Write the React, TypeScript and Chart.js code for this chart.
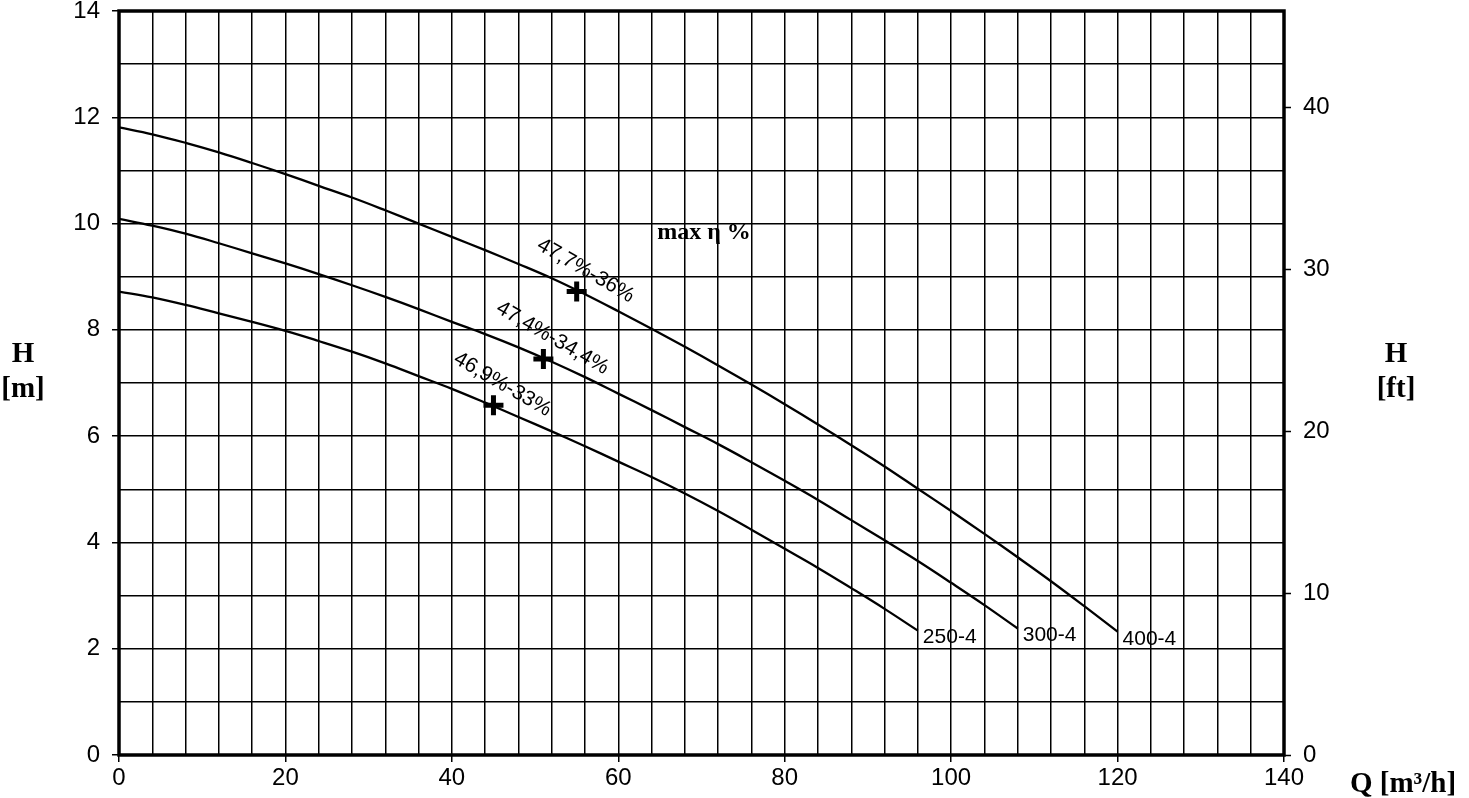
import React, { useEffect, useRef } from 'react';
import { Chart, registerables } from 'chart.js';

Chart.register(...registerables);

const CANVAS_W = 1469;
const SHIFT_UP = 4;
const CANVAS_H = 798 + SHIFT_UP;

// Pump curves: flow Q [m3/h] and head H [m]
const FLOW_250 = [0, 4, 8, 12, 16, 20, 24, 28, 32, 36, 40, 44, 48, 52, 56, 60, 64, 68, 72, 76, 80, 84, 88, 92, 96];
const HEAD_250 = [8.72, 8.61, 8.47, 8.31, 8.15, 7.98, 7.79, 7.59, 7.37, 7.13, 6.89, 6.63, 6.36, 6.09, 5.81, 5.52, 5.23, 4.92, 4.59, 4.24, 3.88, 3.52, 3.14, 2.75, 2.34];

const FLOW_300 = [0, 4, 8, 12, 16, 20, 24, 28, 32, 36, 40, 44, 48, 52, 56, 60, 64, 68, 72, 76, 80, 84, 88, 92, 96, 100, 104, 108];
const HEAD_300 = [10.09, 9.96, 9.81, 9.63, 9.44, 9.25, 9.05, 8.84, 8.62, 8.39, 8.15, 7.92, 7.67, 7.4, 7.11, 6.8, 6.49, 6.17, 5.85, 5.51, 5.16, 4.8, 4.42, 4.04, 3.65, 3.24, 2.82, 2.38];

const FLOW_400 = [0, 4, 8, 12, 16, 20, 24, 28, 32, 36, 40, 44, 48, 52, 56, 60, 64, 68, 72, 76, 80, 84, 88, 92, 96, 100, 104, 108, 112, 116, 120];
const HEAD_400 = [11.81, 11.68, 11.52, 11.34, 11.14, 10.93, 10.71, 10.49, 10.25, 10.0, 9.75, 9.5, 9.24, 8.97, 8.67, 8.35, 8.02, 7.68, 7.33, 6.97, 6.6, 6.22, 5.83, 5.43, 5.01, 4.59, 4.16, 3.72, 3.27, 2.8, 2.32];

const CURVE_NAMES = ['250-4', '300-4', '400-4'];

// Best efficiency points
const BEP_Q = [45, 51, 55];
const BEP_H = [6.58, 7.45, 8.72];
const BEP_LABELS = ['46,9%-33%', '47,4%-34,4%', '47,7%-36%'];

const NOTE_TEXT = 'max η %';
const NOTE_Q = 70.3;
const NOTE_H = 9.82;

const X_TICK_EVERY = 20;
const Y_TICK_EVERY = 2;
const M_TO_FT = 3.28084;
const H_MAX = 14;
const Q_MAX = 140;

const toPoints = (xs: number[], ys: number[]) => xs.map((x, i) => ({ x, y: ys[i] }));

const curveData = [
  toPoints(FLOW_250, HEAD_250),
  toPoints(FLOW_300, HEAD_300),
  toPoints(FLOW_400, HEAD_400),
];

const SANS = '"Liberation Sans", Arial, sans-serif';
const SERIF = '"Liberation Serif", "Times New Roman", serif';

const framePlugin = {
  id: 'frame',
  afterDatasetsDraw(chart: any) {
    const { ctx, chartArea: a } = chart;
    ctx.save();
    ctx.strokeStyle = '#000';
    ctx.lineWidth = 3.5;
    ctx.strokeRect(a.left, a.top, a.right - a.left, a.bottom - a.top);
    ctx.restore();
  },
};

const textPlugin = {
  id: 'texts',
  afterDraw(chart: any) {
    const { ctx, chartArea: a } = chart;
    const xs = chart.scales.x;
    const ys = chart.scales.y;
    ctx.save();
    ctx.fillStyle = '#000';

    // curve end labels
    ctx.font = `21px ${SANS}`;
    ctx.textAlign = 'left';
    ctx.textBaseline = 'middle';
    curveData.forEach((pts, i) => {
      const last = pts[pts.length - 1];
      const px = xs.getPixelForValue(last.x);
      const py = ys.getPixelForValue(last.y);
      ctx.fillText(CURVE_NAMES[i], px + 5, py + 7);
    });

    // BEP labels
    ctx.font = `21px ${SANS}`;
    ctx.textAlign = 'center';
    BEP_LABELS.forEach((t, i) => {
      const px = xs.getPixelForValue(BEP_Q[i]);
      const py = ys.getPixelForValue(BEP_H[i]);
      ctx.save();
      ctx.translate(px + 9, py - 21);
      ctx.rotate(Math.PI / 6);
      ctx.fillText(t, 0, 0);
      ctx.restore();
    });

    // note
    ctx.font = `bold 24px ${SERIF}`;
    ctx.textAlign = 'center';
    ctx.fillText(NOTE_TEXT, xs.getPixelForValue(NOTE_Q), ys.getPixelForValue(NOTE_H));

    // axis titles
    ctx.font = `bold 29px ${SERIF}`;
    ctx.textBaseline = 'alphabetic';
    ctx.textAlign = 'center';
    const leftX = a.left - 96;
    const rightX = a.right + 112;
    ctx.fillText('H', leftX, 362 + SHIFT_UP);
    ctx.fillText('[m]', leftX, 397 + SHIFT_UP);
    ctx.fillText('H', rightX, 362 + SHIFT_UP);
    ctx.fillText('[ft]', rightX, 397 + SHIFT_UP);
    ctx.textAlign = 'left';
    ctx.fillText('Q [m³/h]', a.right + 66, 792 + SHIFT_UP);
    ctx.restore();
  },
};

export default function App() {
  const ref = useRef<HTMLCanvasElement>(null);

  useEffect(() => {
    document.body.style.margin = '0';
    const canvas = ref.current;
    if (!canvas) return;
    const tickFont = { family: SANS, size: 24, lineHeight: 0.9 };
    const chart = new Chart(canvas, {
      type: 'line',
      data: {
        datasets: [
          ...curveData.map((pts, i) => ({
            label: CURVE_NAMES[i],
            data: pts,
            borderColor: '#000',
            borderWidth: 2.3,
            pointRadius: 0,
            fill: false,
            tension: 0.4,
          })),
          {
            label: 'BEP',
            data: toPoints(BEP_Q, BEP_H),
            showLine: false,
            pointStyle: 'cross',
            pointRadius: 10,
            pointBorderWidth: 5,
            pointBorderColor: '#000',
            borderColor: '#000',
          },
        ],
      },
      options: {
        responsive: false,
        animation: false,
        devicePixelRatio: 1,
        layout: { padding: { top: 11, left: 0, right: 0, bottom: 0 } },
        plugins: {
          legend: { display: false },
          tooltip: { enabled: false },
        },
        scales: {
          x: {
            type: 'linear',
            min: 0,
            max: Q_MAX,
            border: { display: false },
            grid: {
              color: '#000',
              lineWidth: 1.5,
              tickLength: 7,
              tickWidth: 1.5,
              tickColor: (c: any) => (c.tick && c.tick.value % X_TICK_EVERY === 0 ? '#000' : 'rgba(0,0,0,0)'),
            },
            ticks: {
              stepSize: 4,
              autoSkip: false,
              maxRotation: 0,
              includeBounds: false,
              color: '#000',
              font: tickFont,
              padding: 6,
              callback: (v: any) => (Number(v) % X_TICK_EVERY === 0 ? String(v) : ''),
            },
            afterFit: (s: any) => {
              s.height = 43;
            },
          },
          y: {
            type: 'linear',
            position: 'left',
            min: 0,
            max: H_MAX,
            border: { display: false },
            grid: {
              color: '#000',
              lineWidth: 1.5,
              tickLength: 7,
              tickWidth: 1.5,
              tickColor: (c: any) => (c.tick && c.tick.value % Y_TICK_EVERY === 0 ? '#000' : 'rgba(0,0,0,0)'),
            },
            ticks: {
              stepSize: 1,
              autoSkip: false,
              includeBounds: false,
              color: '#000',
              font: tickFont,
              padding: 12,
              callback: (v: any) => (Number(v) % Y_TICK_EVERY === 0 ? String(v) : ''),
            },
            afterFit: (s: any) => {
              s.width = 119;
              s.paddingTop = 0;
              s.paddingBottom = 0;
            },
          },
          y2: {
            type: 'linear',
            position: 'right',
            min: 0,
            max: H_MAX * M_TO_FT,
            border: { display: false },
            grid: {
              drawOnChartArea: false,
              color: '#000',
              tickLength: 7,
              tickWidth: 1.5,
              tickColor: '#000',
            },
            ticks: {
              stepSize: 10,
              autoSkip: false,
              includeBounds: false,
              color: '#000',
              font: tickFont,
              padding: 12,
            },
            afterFit: (s: any) => {
              s.width = 185;
              s.paddingTop = 0;
              s.paddingBottom = 0;
            },
          },
        },
      },
      plugins: [framePlugin, textPlugin],
    } as any);
    return () => chart.destroy();
  }, []);

  return (
    <div style={{ position: 'fixed', left: 0, top: 0, width: 1469, height: 798, overflow: 'hidden', background: '#fff' }}>
      <canvas
        ref={ref}
        width={CANVAS_W}
        height={CANVAS_H}
        style={{ position: 'absolute', left: 0, top: -SHIFT_UP, width: CANVAS_W, height: CANVAS_H, display: 'block' }}
      />
    </div>
  );
}
